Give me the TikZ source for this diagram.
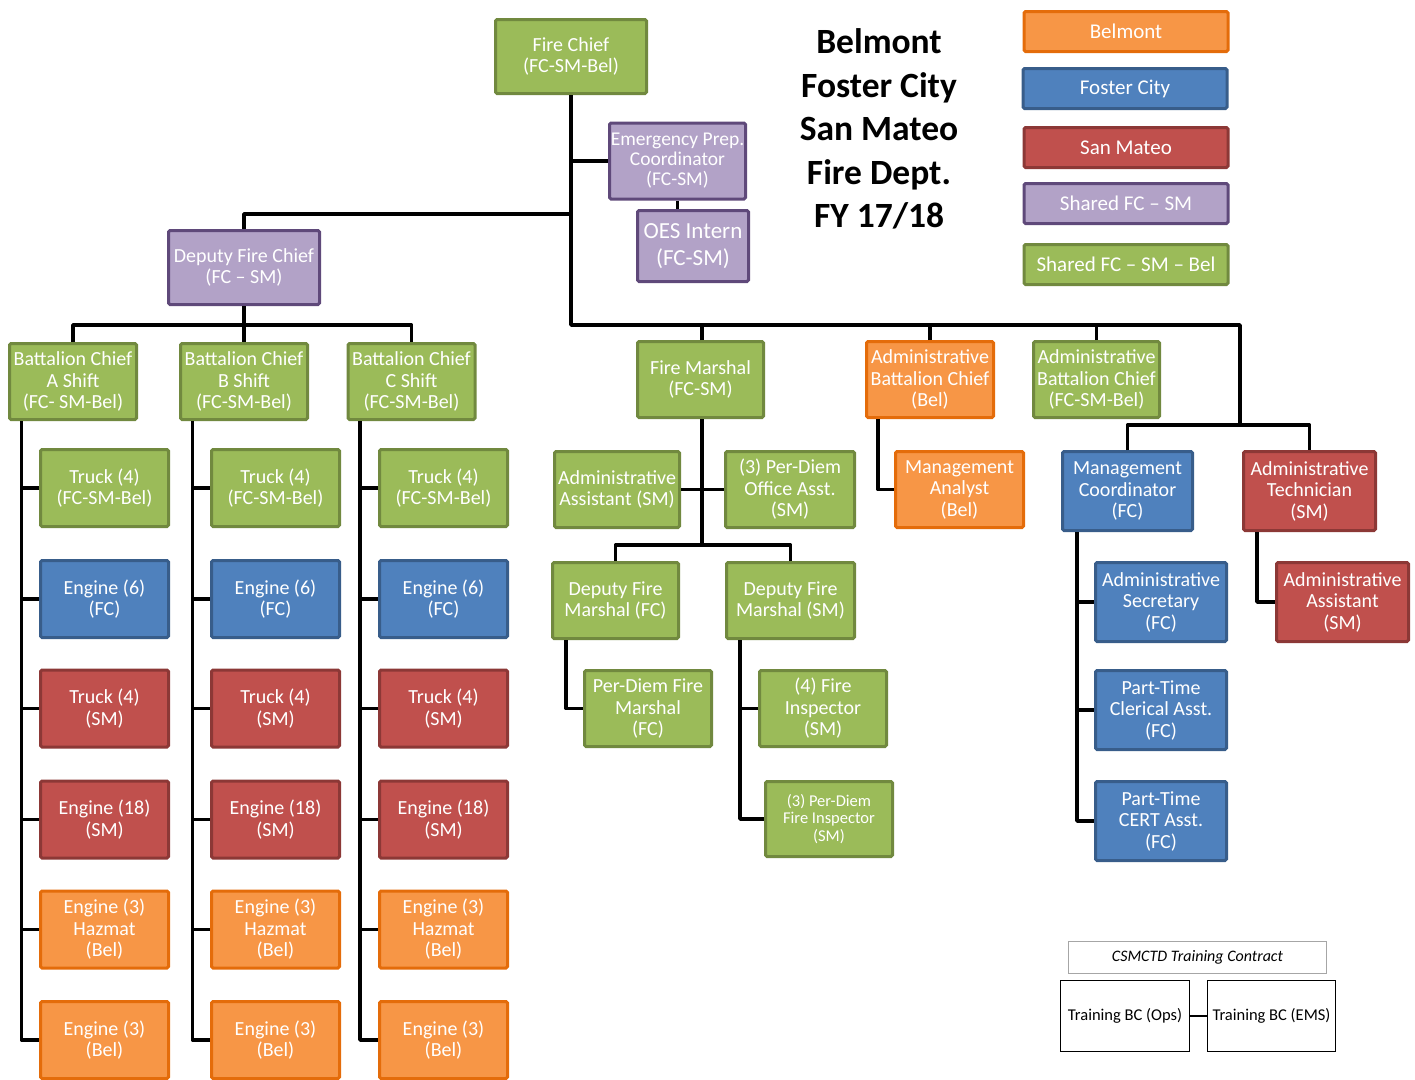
\documentclass[tikz,border=0pt]{standalone}
\usepackage{fontspec}
\setmainfont{Carlito}
\begin{document}
\begin{tikzpicture}[x=1pt,y=-1pt,
  box/.style={draw, line width=3pt, rounded corners=1.5pt, text=white, align=center, inner sep=0pt,
     font=\fontsize{20}{21.5}\selectfont},
  gbox/.style={box, fill=cGf, draw=cGd},
  bbox/.style={box, fill=cBf, draw=cBd},
  rbox/.style={box, fill=cRf, draw=cRd},
  obox/.style={box, fill=cOf, draw=cOd},
  pbox/.style={box, fill=cPf, draw=cPd},
  sz/.style 2 args={minimum width=#1, minimum height=#2},
  kid/.style={sz={128}{77}},
  leg/.style={sz={204}{40}, font=\fontsize{21}{24}\selectfont},
  conn/.style={draw=black, line width=3.5pt, line join=round}
]
\definecolor{cGf}{HTML}{9BBB59}\definecolor{cGd}{HTML}{71893F}
\definecolor{cBf}{HTML}{4F81BD}\definecolor{cBd}{HTML}{385D8A}
\definecolor{cRf}{HTML}{C0504D}\definecolor{cRd}{HTML}{8C3836}
\definecolor{cOf}{HTML}{F79646}\definecolor{cOd}{HTML}{E46C0A}
\definecolor{cPf}{HTML}{B2A2C7}\definecolor{cPd}{HTML}{5F497A}
\useasboundingbox (0,0) rectangle (1415,1079);

% title
\node[font=\fontsize{35.5}{43.5}\selectfont\bfseries, align=center] (title) at (879,129)
  {Belmont\\Foster City\\San Mateo\\Fire Dept.\\FY 17/18};

% legend
\node[obox, leg] (lbel) at (1126,31.5) {Belmont};
\node[bbox, leg] (lfc) at (1125,88.5) {Foster City};
\node[rbox, leg] (lsm) at (1126,147.5) {San Mateo};
\node[pbox, leg] (lshared) at (1126,203.5) {Shared FC -- SM};
\node[gbox, leg] (lall) at (1126,264.5) {Shared FC -- SM -- Bel};

% top
\node[gbox, sz={151}{74}] (chief) at (571,56.5) {Fire Chief\\(FC-SM-Bel)};
\node[pbox, sz={136}{76}, font=\fontsize{19.5}{20}\selectfont] (epc) at (677.5,161) {Emergency Prep.\\Coordinator\\(FC-SM)};
\node[pbox, sz={111}{71}, font=\fontsize{23}{27}\selectfont] (oes) at (693,246) {OES Intern\\(FC-SM)};
\node[pbox, sz={151}{74}] (dfc) at (244,267.5) {Deputy Fire Chief\\(FC -- SM)};

% battalion chiefs
\node[gbox, sz={127}{76}] (bca) at (73,381.5) {Battalion Chief\\A Shift\\(FC- SM-Bel)};
\node[gbox, sz={127}{76}] (bcb) at (244,381.5) {Battalion Chief\\B Shift\\(FC-SM-Bel)};
\node[gbox, sz={127}{76}] (bcc) at (411.5,381.5) {Battalion Chief\\C Shift\\(FC-SM-Bel)};

% columns
\foreach \c/\x in {a/104.5, b/275.5, c/443.5}{
  \node[gbox, kid] (\c1) at (\x,488) {Truck (4)\\(FC-SM-Bel)};
  \node[bbox, kid] (\c2) at (\x,599) {Engine (6)\\(FC)};
  \node[rbox, kid] (\c3) at (\x,708.5) {Truck (4)\\(SM)};
  \node[rbox, kid] (\c4) at (\x,819.5) {Engine (18)\\(SM)};
  \node[obox, kid] (\c5) at (\x,929.5) {Engine (3)\\Hazmat\\(Bel)};
  \node[obox, kid] (\c6) at (\x,1040) {Engine (3)\\(Bel)};
}

% fire marshal group
\node[gbox, sz={126}{76}] (fm) at (700.5,379.5) {Fire Marshal\\(FC-SM)};
\node[gbox, sz={125}{76}] (aa) at (617,489.5) {Administrative\\Assistant (SM)};
\node[gbox, sz={129}{76}] (pdoa) at (790,489.5) {(3) Per-Diem\\Office Asst.\\(SM)};
\node[gbox, sz={126}{76}] (dfmfc) at (615.5,600.5) {Deputy Fire\\Marshal (FC)};
\node[gbox, sz={128}{76}] (dfmsm) at (790.5,600.5) {Deputy Fire\\Marshal (SM)};
\node[gbox, sz={127}{76}] (pdfm) at (648,708.5) {Per-Diem Fire\\Marshal\\(FC)};
\node[gbox, sz={127}{76}] (fi) at (823,708.5) {(4) Fire\\Inspector\\(SM)};
\node[gbox, sz={127}{75}, font=\fontsize{16.5}{17.5}\selectfont] (pdfi) at (829,819) {(3) Per-Diem\\Fire Inspector\\(SM)};

% admin groups
\node[obox, sz={127}{76}] (abcb) at (930,379.5) {Administrative\\Battalion Chief\\(Bel)};
\node[obox, sz={128}{76}] (ma) at (959.5,489.5) {Management\\Analyst\\(Bel)};
\node[gbox, sz={126}{76}] (abcs) at (1096.5,379.5) {Administrative\\Battalion Chief\\(FC-SM-Bel)};
\node[bbox, sz={130}{79}] (mc) at (1127.5,491) {Management\\Coordinator\\(FC)};
\node[rbox, sz={132}{79}] (at) at (1309.5,491) {Administrative\\Technician\\(SM)};
\node[bbox, sz={131}{79}] (as) at (1161,602) {Administrative\\Secretary\\(FC)};
\node[bbox, sz={131}{79}] (ptc) at (1161,710) {Part-Time\\Clerical Asst.\\(FC)};
\node[bbox, sz={131}{79}] (cert) at (1161,821) {Part-Time\\CERT Asst.\\(FC)};
\node[rbox, sz={132}{79}] (asm) at (1342.5,602) {Administrative\\Assistant\\(SM)};

% training
\node[draw=black!35, line width=1pt, minimum width=258, minimum height=32, inner sep=0pt,
  font=\fontsize{16}{18}\selectfont\itshape] (csm) at (1197.5,957.5) {CSMCTD Training Contract};
\node[draw=black, line width=1.3pt, minimum width=129, minimum height=71, inner sep=0pt,
  font=\fontsize{16.5}{18}\selectfont] (ops) at (1125,1016) {Training BC (Ops)};
\node[draw=black, line width=1.3pt, minimum width=128, minimum height=71, inner sep=0pt,
  font=\fontsize{16.5}{18}\selectfont] (ems) at (1271.5,1016) {Training BC (EMS)};
\draw[line width=1.3pt] (ops.east) -- (ems.west);

% connectors
\coordinate (bus) at (571,325);
\coordinate (busR) at (1240,325);
\coordinate (j1) at (571,214);
\coordinate (bcbus) at (244,325);
\coordinate (fmbus) at (702,545);
\coordinate (subbus) at (1240,425);

\path[conn] (chief.south) -- (bus) -- (busR) -- (subbus);
\path[conn] (chief.south |- epc.west) -- (epc.west);
\path[conn] (epc.south) -- (epc.south |- oes.north);
\path[conn] (j1) -| (dfc.north);
\path[conn] (dfc.south) -- (bcb.north);
\path[conn] (bca.north) |- (bcbus) -| (bcc.north);
\path[conn] ([xshift=1.5pt]fm.north) -- ([xshift=1.5pt]fm.north |- bus);
\path[conn] (abcb.north) -- (abcb.north |- bus);
\path[conn] (abcs.north) -- (abcs.north |- bus);
\path[conn] (mc.north) |- (subbus) -| (at.north);

\path[conn] ([xshift=1.5pt]fm.south) -- (fmbus);
\path[conn] (aa.east) -- (pdoa.west);
\path[conn] (dfmfc.north) |- (fmbus) -| (dfmsm.north);
\path[conn] ([xshift=15pt]dfmfc.south west) |- (pdfm.west);
\path[conn] ([xshift=15pt]dfmsm.south west) |- (fi.west);
\path[conn] ([xshift=15pt]dfmsm.south west) |- (pdfi.west);
\path[conn] ([xshift=13pt]abcb.south west) |- (ma.west);
\foreach \k in {as,ptc,cert}{\path[conn] ([xshift=16pt]mc.south west) |- (\k.west);}
\path[conn] ([xshift=15pt]at.south west) |- (asm.west);

\foreach \c/\p in {a/bca,b/bcb,c/bcc}{
  \foreach \i in {1,...,6}{
    \path[conn] ([xshift=13.5pt]\p.south west) |- (\c\i.west);
  }
}
\end{tikzpicture}
\end{document}
